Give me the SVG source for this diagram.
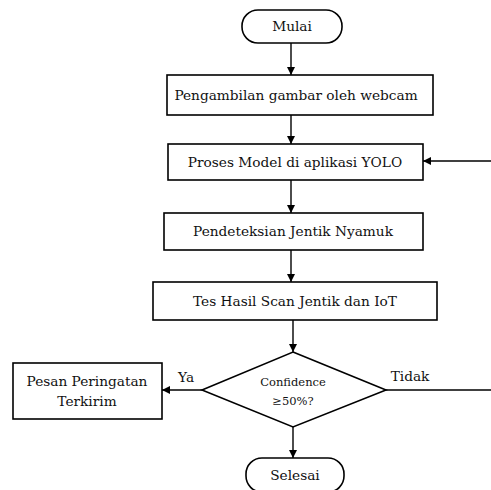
<svg xmlns="http://www.w3.org/2000/svg" width="491" height="490" viewBox="0 0 491 490">
<defs>
<marker id="ah" markerWidth="10" markerHeight="10" refX="9" refY="5" orient="auto" markerUnits="userSpaceOnUse">
<path d="M1,1 L9,5 L1,9 Z" fill="#000"/>
</marker>
<style>
.shape{fill:#fff;stroke:#000;stroke-width:1.6}
.t{font-family:"DejaVu Serif","Liberation Serif",serif;font-size:13.7px;fill:#111;text-anchor:middle}
.s{font-family:"DejaVu Serif","Liberation Serif",serif;font-size:11.5px;fill:#111;text-anchor:middle}
.c{stroke:#000;stroke-width:1.4;fill:none}
</style>
</defs>
<rect width="491" height="490" fill="#fff"/>
<g id="connectors">
<line class="c" x1="291" y1="43" x2="291" y2="75" marker-end="url(#ah)"/>
<line class="c" x1="291" y1="115" x2="291" y2="144" marker-end="url(#ah)"/>
<line class="c" x1="491" y1="161" x2="423" y2="161" marker-end="url(#ah)"/>
<line class="c" x1="291" y1="180" x2="291" y2="213" marker-end="url(#ah)"/>
<line class="c" x1="291" y1="250" x2="291" y2="282" marker-end="url(#ah)"/>
<line class="c" x1="293" y1="320" x2="293" y2="352" marker-end="url(#ah)"/>
<line class="c" x1="202" y1="390" x2="162" y2="390" marker-end="url(#ah)"/>
<line class="c" x1="386" y1="390" x2="491" y2="390"/>
<line class="c" x1="293" y1="427" x2="293" y2="458" marker-end="url(#ah)"/>
<text class="t" x="186" y="382">Ya</text>
<text class="t" x="410" y="381">Tidak</text>
</g>
<g id="mulai">
<rect class="shape" x="242" y="10" width="100" height="33" rx="16"/>
<text class="t" x="292" y="31">Mulai</text>
</g>
<g id="pengambilan">
<rect class="shape" x="167" y="75" width="266" height="40"/>
<text class="t" x="296" y="100">Pengambilan gambar oleh webcam</text>
</g>
<g id="proses">
<rect class="shape" x="168" y="144" width="255" height="36"/>
<text class="t" x="295" y="167">Proses Model di aplikasi YOLO</text>
</g>
<g id="pendeteksian">
<rect class="shape" x="164" y="213" width="259" height="37"/>
<text class="t" x="293" y="236">Pendeteksian Jentik Nyamuk</text>
</g>
<g id="tes">
<rect class="shape" x="153" y="282" width="284" height="38"/>
<text class="t" x="295" y="306">Tes Hasil Scan Jentik dan IoT</text>
</g>
<g id="decision">
<polygon class="shape" points="293,352 386,390 293,427 202,390"/>
<text class="s" x="293" y="386">Confidence</text>
<text class="s" x="293" y="405">≥50%?</text>
</g>
<g id="pesan">
<rect class="shape" x="13" y="363" width="149" height="56"/>
<text class="t" x="87" y="386">Pesan Peringatan</text>
<text class="t" x="87" y="406">Terkirim</text>
</g>
<g id="selesai">
<rect class="shape" x="246" y="458" width="98" height="34" rx="16"/>
<text class="t" x="295" y="480">Selesai</text>
</g>
</svg>
